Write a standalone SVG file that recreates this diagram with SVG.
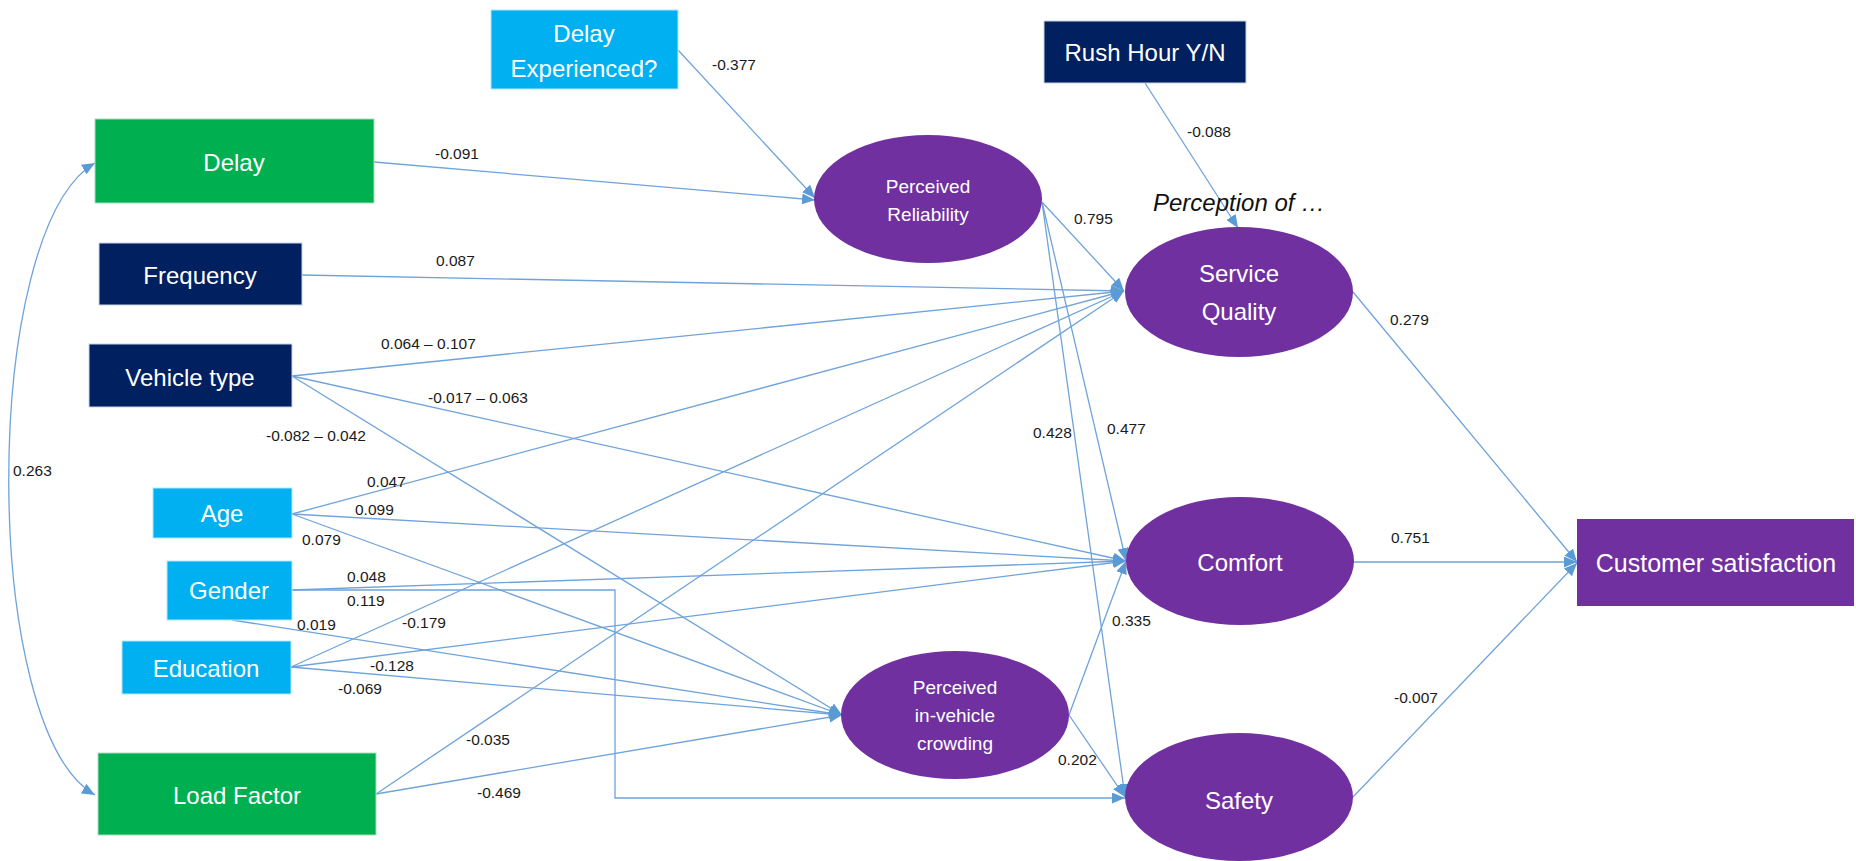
<svg xmlns="http://www.w3.org/2000/svg" width="1856" height="861" viewBox="0 0 1856 861">
<defs>
<style>
.c{fill:none;stroke:#6FA3DA;stroke-width:1.3}
.a{marker-end:url(#ah)}
.nt{font-family:"Liberation Sans",Arial,sans-serif;font-size:24px;fill:#ffffff;text-anchor:middle;dominant-baseline:central}
.et{font-family:"Liberation Sans",Arial,sans-serif;font-size:19px;fill:#ffffff;text-anchor:middle;dominant-baseline:central}
.lb{font-family:"Liberation Sans",Arial,sans-serif;font-size:15.5px;fill:#1a1a1a;dominant-baseline:central}
.green{fill:#00B050;stroke:#A9DCBE;stroke-width:1}
.navy{fill:#002060;stroke:#C9D3E6;stroke-width:1}
.lblue{fill:#00B0F0;stroke:#B5E6FA;stroke-width:1}
.purple{fill:#7030A0}
</style>
<marker id="ah" markerUnits="userSpaceOnUse" markerWidth="13" markerHeight="11" refX="13" refY="5.5" orient="auto-start-reverse">
<path d="M0,0 L13,5.5 L0,11 z" fill="#5B9BD5"/>
</marker>
</defs>

<g id="connectors">
<path class="c" d="M95,163 C-20,230 -20,730 95,795" marker-start="url(#ah)" marker-end="url(#ah)"/>
<line class="c a" x1="374" y1="162" x2="815" y2="200"/>
<line class="c a" x1="678" y1="50" x2="815" y2="198"/>
<line class="c a" x1="1145" y1="83" x2="1238" y2="228"/>
<line class="c a" x1="302" y1="275" x2="1124" y2="291"/>
<line class="c a" x1="292" y1="376" x2="1124" y2="291"/>
<line class="c a" x1="292" y1="514" x2="1124" y2="291"/>
<line class="c a" x1="291" y1="667" x2="1124" y2="291"/>
<line class="c a" x1="376" y1="794" x2="1124" y2="291"/>
<line class="c a" x1="1042" y1="202" x2="1124" y2="291"/>
<line class="c a" x1="292" y1="376" x2="1126" y2="561"/>
<line class="c a" x1="292" y1="514" x2="1126" y2="561"/>
<line class="c a" x1="292" y1="590" x2="1126" y2="561"/>
<line class="c a" x1="291" y1="667" x2="1126" y2="561"/>
<line class="c a" x1="1042" y1="202" x2="1126" y2="561"/>
<line class="c a" x1="1069" y1="715" x2="1126" y2="561"/>
<line class="c a" x1="292" y1="376" x2="842" y2="715"/>
<line class="c a" x1="292" y1="514" x2="842" y2="715"/>
<line class="c a" x1="232" y1="620" x2="842" y2="715"/>
<line class="c a" x1="291" y1="667" x2="842" y2="715"/>
<line class="c a" x1="376" y1="794" x2="842" y2="715"/>
<line class="c a" x1="1042" y1="202" x2="1125" y2="797"/>
<line class="c a" x1="1069" y1="715" x2="1125" y2="797"/>
<polyline class="c a" points="292,590 615,590 615,798 1125,798"/>
<line class="c a" x1="1353" y1="292" x2="1577" y2="562"/>
<line class="c a" x1="1354" y1="562" x2="1577" y2="562"/>
<line class="c a" x1="1353" y1="797" x2="1577" y2="563"/>
</g>

<g id="labels">
<text class="lb" x="712" y="64">-0.377</text>
<text class="lb" x="435" y="153">-0.091</text>
<text class="lb" x="436" y="260">0.087</text>
<text class="lb" x="381" y="343">0.064 – 0.107</text>
<text class="lb" x="428" y="397">-0.017 – 0.063</text>
<text class="lb" x="266" y="435">-0.082 – 0.042</text>
<text class="lb" x="13" y="470">0.263</text>
<text class="lb" x="367" y="481">0.047</text>
<text class="lb" x="355" y="509">0.099</text>
<text class="lb" x="302" y="539">0.079</text>
<text class="lb" x="347" y="576">0.048</text>
<text class="lb" x="347" y="600">0.119</text>
<text class="lb" x="297" y="624">0.019</text>
<text class="lb" x="402" y="622">-0.179</text>
<text class="lb" x="370" y="665">-0.128</text>
<text class="lb" x="338" y="688">-0.069</text>
<text class="lb" x="466" y="739">-0.035</text>
<text class="lb" x="477" y="792">-0.469</text>
<text class="lb" x="1187" y="131">-0.088</text>
<text class="lb" x="1074" y="218">0.795</text>
<text class="lb" x="1033" y="432">0.428</text>
<text class="lb" x="1107" y="428">0.477</text>
<text class="lb" x="1112" y="620">0.335</text>
<text class="lb" x="1058" y="759">0.202</text>
<text class="lb" x="1390" y="319">0.279</text>
<text class="lb" x="1391" y="537">0.751</text>
<text class="lb" x="1394" y="697">-0.007</text>
<text x="1153" y="202" font-family="Liberation Sans, Arial, sans-serif" font-size="24" font-style="italic" fill="#111" dominant-baseline="central">Perception of …</text>
</g>

<g id="n-delay-exp"><rect class="lblue" x="491" y="10" width="187" height="79"/><text class="nt" x="584" y="33">Delay</text><text class="nt" x="584" y="68">Experienced?</text></g>
<g id="n-delay"><rect class="green" x="95" y="119" width="279" height="84"/><text class="nt" x="234" y="162">Delay</text></g>
<g id="n-frequency"><rect class="navy" x="99" y="243" width="203" height="62"/><text class="nt" x="200" y="275">Frequency</text></g>
<g id="n-vehicle"><rect class="navy" x="89" y="344" width="203" height="63"/><text class="nt" x="190" y="377">Vehicle type</text></g>
<g id="n-age"><rect class="lblue" x="153" y="488" width="139" height="50"/><text class="nt" x="222" y="513">Age</text></g>
<g id="n-gender"><rect class="lblue" x="167" y="561" width="125" height="59"/><text class="nt" x="229" y="590">Gender</text></g>
<g id="n-education"><rect class="lblue" x="122" y="641" width="169" height="53"/><text class="nt" x="206" y="668">Education</text></g>
<g id="n-load"><rect class="green" x="98" y="753" width="278" height="82"/><text class="nt" x="237" y="795">Load Factor</text></g>
<g id="n-rush"><rect class="navy" x="1044" y="21" width="202" height="62"/><text class="nt" x="1145" y="52">Rush Hour Y/N</text></g>
<g id="n-reliability"><ellipse class="purple" cx="928" cy="199" rx="114" ry="64"/><text class="et" x="928" y="186">Perceived</text><text class="et" x="928" y="214">Reliability</text></g>
<g id="n-service"><ellipse class="purple" cx="1239" cy="292" rx="114" ry="65"/><text class="nt" x="1239" y="273">Service</text><text class="nt" x="1239" y="311">Quality</text></g>
<g id="n-comfort"><ellipse class="purple" cx="1240" cy="561" rx="114" ry="64"/><text class="nt" x="1240" y="562">Comfort</text></g>
<g id="n-crowding"><ellipse class="purple" cx="955" cy="715" rx="114" ry="64"/><text class="et" x="955" y="687">Perceived</text><text class="et" x="955" y="715">in-vehicle</text><text class="et" x="955" y="743">crowding</text></g>
<g id="n-safety"><ellipse class="purple" cx="1239" cy="797" rx="114" ry="64"/><text class="nt" x="1239" y="800">Safety</text></g>
<g id="n-customer"><rect class="purple" x="1577" y="519" width="277" height="87"/><text class="nt" x="1716" y="563" style="font-size:25px">Customer satisfaction</text></g>
</svg>
